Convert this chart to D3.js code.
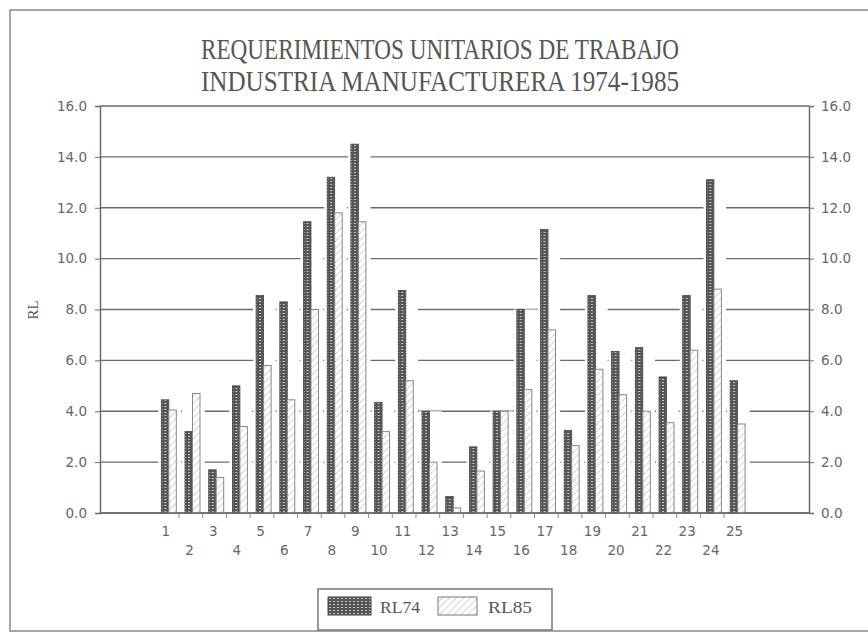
<!DOCTYPE html>
<html lang="es">
<head>
  <meta charset="UTF-8">
  <title>Requerimientos unitarios de trabajo</title>
  <script src="https://d3js.org/d3.v7.min.js"></script>
  <style>
    body { margin: 0; background: #fff; }
    .title { font-family: "Liberation Serif", serif; fill: #555; }
    .tick-label { font-family: "DejaVu Sans", sans-serif; font-size: 13.5px; fill: #666; }
    .legend-text { font-family: "Liberation Serif", serif; font-size: 17px; fill: #555; }
  </style>
</head>
<body>
<div id="chart"></div>
<script>
  // datos
  const categories = d3.range(1, 26).map(String);
  const rl74 = [4.45, 3.2, 1.7, 5.0, 8.55, 8.3, 11.45, 13.2, 14.5, 4.35, 8.75, 4.0, 0.65,
                2.6, 4.0, 8.0, 11.15, 3.25, 8.55, 6.35, 6.5, 5.35, 8.55, 13.1, 5.2];
  const rl85 = [4.05, 4.7, 1.4, 3.4, 5.8, 4.45, 8.0, 11.8, 11.45, 3.2, 5.2, 2.0, 0.2,
                1.65, 4.0, 4.85, 7.2, 2.65, 5.65, 4.65, 4.0, 3.55, 6.4, 8.8, 3.5];
  const yTicks = [0, 2, 4, 6, 8, 10, 12, 14, 16];
  const titleLines = ["REQUERIMIENTOS UNITARIOS DE TRABAJO", "INDUSTRIA MANUFACTURERA 1974-1985"];
  const seriesNames = ["RL74", "RL85"];

  const width = 868, height = 636;
  const plotLeft = 100, plotRight = 809, plotTop = 106, plotBottom = 513;
  const lineColor = "#6b6b6b";

  const svg = d3.select("#chart").append("svg")
    .attr("width", width).attr("height", height)
    .style("background", "#fff");

  const defs = svg.append("defs");
  const dark = defs.append("pattern").attr("id", "dark")
    .attr("patternUnits", "userSpaceOnUse").attr("width", 4).attr("height", 3);
  dark.append("rect").attr("width", 4).attr("height", 3).attr("fill", "#555");
  dark.append("rect").attr("x", 1).attr("y", 1).attr("width", 2).attr("height", 1).attr("fill", "#c8c8c8");

  const hatch = defs.append("pattern").attr("id", "hatch")
    .attr("patternUnits", "userSpaceOnUse").attr("width", 5).attr("height", 5)
    .attr("patternTransform", "rotate(45)");
  hatch.append("rect").attr("width", 5).attr("height", 5).attr("fill", "#fff");
  hatch.append("line").attr("x1", 0).attr("y1", 0).attr("x2", 0).attr("y2", 5)
    .attr("stroke", "#aaa").attr("stroke-width", 1);

  // marco exterior
  svg.append("rect").attr("x", 10).attr("y", 10).attr("width", 870).attr("height", 621)
    .attr("fill", "none").attr("stroke", "#888").attr("stroke-width", 1.5);

  // titulo
  titleLines.forEach((t, i) => {
    svg.append("text").attr("class", "title")
      .attr("x", 440).attr("y", 59 + i * 32)
      .attr("text-anchor", "middle")
      .attr("font-size", 29)
      .attr("textLength", 478).attr("lengthAdjust", "spacingAndGlyphs")
      .text(t);
  });

  const x = d3.scaleBand().domain(categories).range([155.3, 747.8]);
  const y = d3.scaleLinear().domain([0, 16]).range([plotBottom, plotTop]);

  // lineas de cuadricula
  svg.append("g").selectAll("line").data(yTicks).join("line")
    .attr("x1", plotLeft).attr("x2", plotRight)
    .attr("y1", d => y(d)).attr("y2", d => y(d))
    .attr("stroke", lineColor).attr("stroke-width", 1.3);

  // ejes izquierdo y derecho
  const axisL = svg.append("g").attr("transform", `translate(${plotLeft},0)`)
    .call(d3.axisLeft(y).tickValues(yTicks).tickSize(5).tickFormat(d3.format(".1f")));
  const axisR = svg.append("g").attr("transform", `translate(${plotRight},0)`)
    .call(d3.axisRight(y).tickValues(yTicks).tickSize(5).tickFormat(d3.format(".1f")));
  [axisL, axisR].forEach(a => {
    a.attr("font-size", null).attr("font-family", null);
    a.select(".domain").attr("stroke", lineColor).attr("stroke-width", 1.5);
    a.selectAll(".tick line").attr("stroke", lineColor);
    a.selectAll(".tick text").attr("class", "tick-label").attr("fill", null);
  });
  axisL.selectAll(".tick text").attr("x", -13);
  axisR.selectAll(".tick text").attr("x", 12);

  svg.append("text")
    .attr("transform", "translate(38,310) rotate(-90)")
    .attr("text-anchor", "middle")
    .attr("class", "title").attr("font-size", 15)
    .text("RL");

  // barras
  const bw = x.bandwidth();
  const groups = svg.append("g").selectAll("g").data(categories).join("g")
    .attr("transform", d => `translate(${x(d)},0)`);

  // halo blanco que corta la cuadricula
  groups.append("rect")
    .attr("x", 3).attr("width", bw - 1)
    .attr("y", (d, i) => y(Math.max(rl74[i], rl85[i])))
    .attr("height", (d, i) => y(0) - y(Math.max(rl74[i], rl85[i])) - 1)
    .attr("fill", "#fff");

  groups.append("rect")
    .attr("x", 6).attr("width", 7.5)
    .attr("y", (d, i) => y(rl74[i]))
    .attr("height", (d, i) => y(0) - y(rl74[i]))
    .attr("fill", "url(#dark)").attr("stroke", "#444").attr("stroke-width", 0.8);

  groups.append("rect")
    .attr("x", 13.5).attr("width", 7.5)
    .attr("y", (d, i) => y(rl85[i]))
    .attr("height", (d, i) => y(0) - y(rl85[i]))
    .attr("fill", "url(#hatch)").attr("stroke", "#888").attr("stroke-width", 1);

  // eje inferior
  svg.append("line").attr("x1", plotLeft).attr("x2", plotRight)
    .attr("y1", y(0)).attr("y2", y(0))
    .attr("stroke", lineColor).attr("stroke-width", 1.5);

  svg.append("g").selectAll("line").data(categories.slice(1)).join("line")
    .attr("x1", d => x(d)).attr("x2", d => x(d))
    .attr("y1", y(0)).attr("y2", y(0) + 5)
    .attr("stroke", "#888");

  svg.append("g").selectAll("text").data(categories).join("text")
    .attr("class", "tick-label")
    .attr("x", d => x(d) + 10.5)
    .attr("y", (d, i) => i % 2 === 0 ? 536 : 555)
    .attr("text-anchor", "middle")
    .text(d => d);

  // leyenda
  const legend = svg.append("g");
  legend.append("rect").attr("x", 318).attr("y", 589).attr("width", 234).attr("height", 41)
    .attr("fill", "#fff").attr("stroke", "#777").attr("stroke-width", 1.5);
  legend.append("rect").attr("x", 328).attr("y", 597).attr("width", 43).attr("height", 18)
    .attr("fill", "url(#dark)").attr("stroke", "#444");
  legend.append("text").attr("class", "legend-text").attr("x", 380).attr("y", 613)
    .attr("textLength", 40).attr("lengthAdjust", "spacingAndGlyphs").text(seriesNames[0]);
  legend.append("rect").attr("x", 438).attr("y", 597).attr("width", 39).attr("height", 18)
    .attr("fill", "url(#hatch)").attr("stroke", "#777");
  legend.append("text").attr("class", "legend-text").attr("x", 488).attr("y", 613)
    .attr("textLength", 44).attr("lengthAdjust", "spacingAndGlyphs").text(seriesNames[1]);
</script>
</body>
</html>
